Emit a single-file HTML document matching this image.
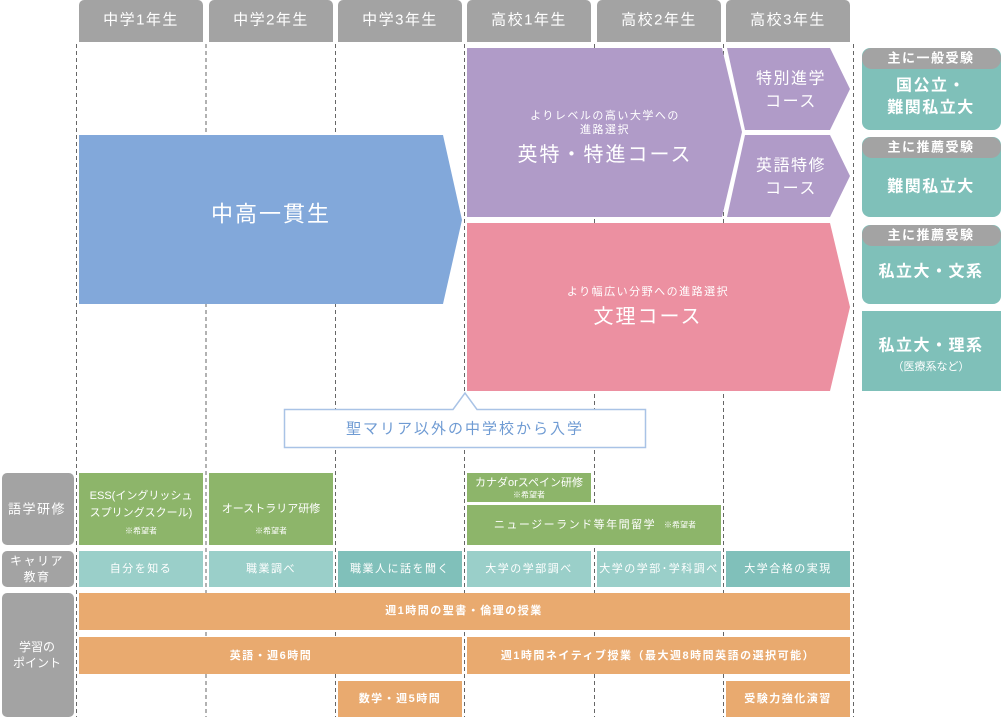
<!DOCTYPE html>
<html><head><meta charset="utf-8"><style>
html,body{margin:0;padding:0;background:#fff;}
svg{display:block;}
text{font-family:"Liberation Sans","Noto Sans CJK JP",sans-serif;fill:#fff;text-anchor:middle;dominant-baseline:central;}
.ls{letter-spacing:1.5px;}
.ls2{letter-spacing:2px;}
</style></head><body>
<svg width="1001" height="717" viewBox="0 0 1001 717" xmlns="http://www.w3.org/2000/svg">
<g fill="#a3a3a3">
<path d="M79 42V5a5 5 0 0 1 5-5h114a5 5 0 0 1 5 5v37z"/>
<path d="M209 42V5a5 5 0 0 1 5-5h114a5 5 0 0 1 5 5v37z"/>
<path d="M338 42V5a5 5 0 0 1 5-5h114a5 5 0 0 1 5 5v37z"/>
<path d="M467 42V5a5 5 0 0 1 5-5h114a5 5 0 0 1 5 5v37z"/>
<path d="M597 42V5a5 5 0 0 1 5-5h114a5 5 0 0 1 5 5v37z"/>
<path d="M726 42V5a5 5 0 0 1 5-5h114a5 5 0 0 1 5 5v37z"/>
</g>
<g font-size="15" class="ls">
<text x="141" y="20">中学1年生</text><text x="271" y="20">中学2年生</text><text x="400" y="20">中学3年生</text>
<text x="529" y="20">高校1年生</text><text x="659" y="20">高校2年生</text><text x="788" y="20">高校3年生</text>
</g>
<g stroke="#666" stroke-width="1" stroke-dasharray="4,3">
<line x1="76.5" y1="44" x2="76.5" y2="717"/><line x1="206" y1="44" x2="206" y2="717"/>
<line x1="335.5" y1="44" x2="335.5" y2="717"/><line x1="464.5" y1="44" x2="464.5" y2="717"/>
<line x1="594.5" y1="44" x2="594.5" y2="717"/><line x1="723.5" y1="44" x2="723.5" y2="717"/>
<line x1="853.5" y1="44" x2="853.5" y2="717"/>
</g>
<polygon points="79,135 443,135 462,220 443,304 79,304" fill="#82a8da"/>
<text x="271" y="214" font-size="22" class="ls2">中高一貫生</text>
<polygon points="467,48 722,48 742,132 722,217 467,217" fill="#b09bc8"/>
<polygon points="727,48 830,48 850,89 830,130 745,130" fill="#b09bc8"/>
<polygon points="745,135 830,135 850,176 830,217 727,217" fill="#b09bc8"/>
<text x="605" y="116" font-size="11" class="ls">よりレベルの高い大学への</text>
<text x="605" y="130" font-size="11" class="ls">進路選択</text>
<text x="605" y="155" font-size="20" class="ls2">英特・特進コース</text>
<text x="791" y="79" font-size="16" class="ls">特別進学</text><text x="791" y="102" font-size="16" class="ls">コース</text>
<text x="791" y="166" font-size="16" class="ls">英語特修</text><text x="791" y="189" font-size="16" class="ls">コース</text>
<polygon points="467,223 830,223 850,307 830,391 467,391" fill="#ec90a1"/>
<text x="648" y="292" font-size="11" class="ls">より幅広い分野への進路選択</text>
<text x="648" y="317" font-size="20" class="ls2">文理コース</text>
<g fill="#7fc0b9">
<rect x="862" y="48" width="139" height="82" rx="8"/>
<rect x="862" y="137" width="139" height="80" rx="8"/>
<rect x="862" y="225" width="139" height="79" rx="8"/>
<rect x="862" y="311" width="139" height="80"/>
</g>
<g fill="#a3a3a3">
<rect x="862" y="48" width="139" height="21" rx="10"/>
<rect x="862" y="137" width="139" height="21" rx="10"/>
<rect x="862" y="225" width="139" height="21" rx="10"/>
</g>
<g font-size="13" class="ls" font-weight="bold"><text x="931" y="58">主に一般受験</text><text x="931" y="147">主に推薦受験</text><text x="931" y="235">主に推薦受験</text></g>
<g font-size="16" class="ls" font-weight="bold">
<text x="931" y="86">国公立・</text><text x="931" y="108">難関私立大</text>
<text x="931" y="187">難関私立大</text>
<text x="931" y="272">私立大・文系</text>
<text x="931" y="346">私立大・理系</text>
</g>
<text x="931" y="367" font-size="11">（医療系など）</text>
<path d="M284.5 409.5H453L465 393L477 409.5H645.5V447.5H284.5Z" fill="#fff" stroke="#a9c3e6" stroke-width="1.5"/>
<text x="465" y="429" font-size="15" class="ls2" style="fill:#6f9bd3">聖マリア以外の中学校から入学</text>
<g fill="#a3a3a3">
<rect x="2" y="473" width="72" height="72" rx="5"/>
<rect x="2" y="551" width="72" height="36" rx="5"/>
<rect x="2" y="593" width="72" height="124" rx="5"/>
</g>
<text x="37" y="509" font-size="13" class="ls">語学研修</text>
<text x="37" y="561" font-size="12" class="ls">キャリア</text><text x="37" y="577" font-size="12" class="ls">教育</text>
<text x="37" y="647" font-size="12">学習の</text><text x="37" y="663" font-size="12">ポイント</text>
<g fill="#8db56a">
<rect x="79" y="473" width="124" height="72"/>
<rect x="209" y="473" width="124" height="72"/>
<rect x="467" y="473" width="124" height="29"/>
<rect x="467" y="505" width="254" height="40"/>
</g>
<text x="141" y="496" font-size="11">ESS(イングリッシュ</text>
<text x="141" y="513" font-size="11">スプリングスクール)</text>
<text x="141" y="531" font-size="8">※希望者</text>
<text x="271" y="509" font-size="11">オーストラリア研修</text>
<text x="271" y="531" font-size="8">※希望者</text>
<text x="529" y="483" font-size="11">カナダorスペイン研修</text>
<text x="529" y="495" font-size="8">※希望者</text>
<text x="575" y="525" font-size="11" class="ls">ニュージーランド等年間留学</text>
<text x="680" y="525" font-size="8">※希望者</text>
<g fill="#9acfc9">
<rect x="79" y="551" width="124" height="36"/><rect x="209" y="551" width="124" height="36"/>
<rect x="467" y="551" width="124" height="36"/><rect x="597" y="551" width="124" height="36"/>
</g>
<g fill="#80c0ba"><rect x="338" y="551" width="124" height="36"/><rect x="726" y="551" width="124" height="36"/></g>
<g font-size="11" class="ls">
<text x="141" y="569">自分を知る</text><text x="271" y="569">職業調べ</text><text x="400" y="569">職業人に話を聞く</text>
<text x="529" y="569">大学の学部調べ</text><text x="659" y="569">大学の学部･学科調べ</text><text x="788" y="569">大学合格の実現</text>
</g>
<g fill="#e9aa6f">
<rect x="79" y="593" width="771" height="37"/>
<rect x="79" y="637" width="383" height="37"/>
<rect x="467" y="637" width="383" height="37"/>
<rect x="338" y="681" width="124" height="36"/>
<rect x="726" y="681" width="124" height="36"/>
</g>
<g font-size="11" class="ls" font-weight="bold">
<text x="464" y="611">週1時間の聖書・倫理の授業</text>
<text x="271" y="656">英語・週6時間</text>
<text x="658" y="656">週1時間ネイティブ授業（最大週8時間英語の選択可能）</text>
<text x="400" y="699">数学・週5時間</text>
<text x="788" y="699">受験力強化演習</text>
</g>
</svg>
</body></html>
